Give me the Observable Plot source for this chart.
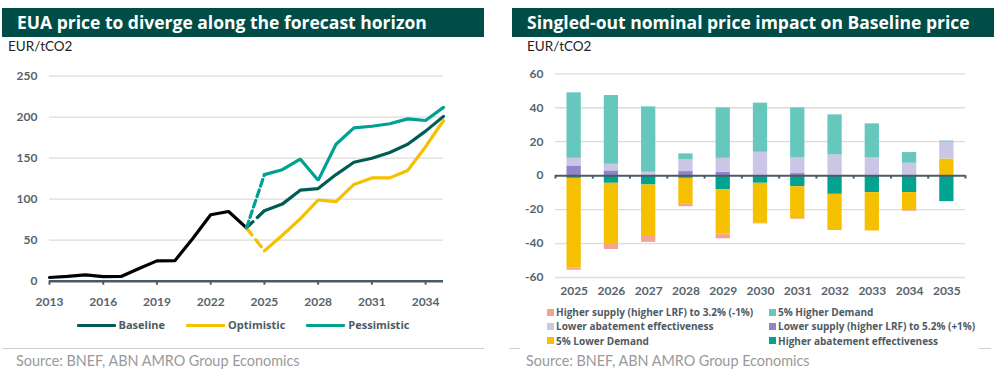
<!DOCTYPE html>
<html><head><meta charset="utf-8">
<script src="https://cdn.jsdelivr.net/npm/d3@7"></script>
<script src="https://cdn.jsdelivr.net/npm/@observablehq/plot@0.6"></script>
<style>
body{margin:0;background:#fff;font-family:Lato,"Noto Sans",sans-serif;}
#root{position:relative;width:1008px;height:391px;overflow:hidden;background:#fff;}
.title{position:absolute;top:8px;height:29px;background:#004d47;color:#fff;font-family:"Open Sans",sans-serif;font-weight:700;font-size:17.5px;line-height:29px;box-sizing:border-box;padding-left:15px;white-space:nowrap;}
.unit{position:absolute;top:38px;font-size:13.5px;color:#222;line-height:16px;}
.chart{position:absolute;}
.source{position:absolute;top:352px;font-size:14.4px;color:#9a9a9a;line-height:18px;white-space:nowrap;}
.hr{position:absolute;top:348px;height:1px;background:#cfcfcf;}
.legL{position:absolute;top:318px;left:0;width:486px;display:flex;justify-content:center;gap:21px;font-family:"Open Sans",sans-serif;font-size:11px;font-weight:700;color:#4d5a63;line-height:14px;}
.legL span{display:flex;align-items:center;}
.legL i{display:inline-block;width:39px;height:3px;margin-right:3px;border-radius:1px;}
.legR{position:absolute;top:305px;left:547px;display:grid;grid-template-columns:222px 230px;row-gap:0px;font-family:"Open Sans",sans-serif;font-size:10px;font-weight:700;color:#4d5a63;line-height:14.3px;}
.legR span{display:flex;align-items:center;white-space:nowrap;}
.legR i{display:inline-block;width:7px;height:7px;margin-right:2px;}
</style>
</head><body>
<div id="root">
  <div class="title" style="left:2px;width:482px;">EUA price to diverge along the forecast horizon</div>
  <div class="unit" style="left:8px;">EUR/tCO2</div>
  <div class="chart" id="left" style="left:0;top:60px;"></div>
  <div class="legL" id="legL"></div>
  <div class="hr" style="left:2px;width:482px;"></div>
  <div class="source" style="left:16px;">Source: BNEF, ABN AMRO Group Economics</div>

  <div class="title" style="left:512px;width:482px;">Singled-out nominal price impact on Baseline price</div>
  <div class="unit" style="left:527px;">EUR/tCO2</div>
  <div class="chart" id="right" style="left:505px;top:60px;"></div>
  <div class="legR" id="legR"></div>
  <div class="hr" style="left:509px;width:11px;"></div>
  <div class="hr" style="left:979px;width:12px;"></div>
  <div class="source" style="left:526px;">Source: BNEF, ABN AMRO Group Economics</div>
</div>
<script>
// ---------- Left chart data ----------
const histYears = [2013,2014,2015,2016,2017,2018,2019,2020,2021,2022,2023,2024];
const histPrice = [4.5,6,7.7,5.5,5.8,15.5,24.8,25,52,81,85,65];
const fcYears = [2025,2026,2027,2028,2029,2030,2031,2032,2033,2034,2035];
const baseline    = [86,94,111,113,130,145,150,157,167,183,201];
const optimistic  = [37,56,76,99,97,118,126,126,135,164,196];
const pessimistic = [130,136,149,123,167,187,189,192,198,196,212];
const scenarioNames = ["Baseline","Optimistic","Pessimistic"];
const scenarioColors = ["#005c54","#f5c000","#00a092"];
const leftYTicks = [0,50,100,150,200,250];
const leftXTicks = [2013,2016,2019,2022,2025,2028,2031,2034];

// ---------- Right chart data ----------
const barYears = [2025,2026,2027,2028,2029,2030,2031,2032,2033,2034,2035];
const higherSupply    = [-1.2,-3,-3.5,-1.8,-2.8,-0.3,-0.4,-0.6,0,-0.4,0];
const higherDemand    = [38.6,40.5,38.5,3.4,29.7,28.9,29.5,23.6,20.1,6.3,0.6];
const lowerAbatement  = [4.5,3.9,1.7,7,8.2,13.5,9.2,12,10.4,7.3,10];
const lowerSupply     = [5.7,2.8,0.3,2.4,2,0.3,1.2,0.2,0,0,0];
const lowerDemand     = [-52.9,-36,-30.3,-14.9,-26.1,-23.6,-18.9,-20.7,-22.6,-10.6,9.8];
const higherAbatement = [-1.6,-4.5,-5.5,-1.6,-8.3,-4.5,-6.5,-11,-10,-10,-15.3];
const seriesNames = [
  "Higher supply (higher LRF) to 3.2% (-1%)",
  "5% Higher Demand",
  "Lower abatement effectiveness",
  "Lower supply (higher LRF) to 5.2% (+1%)",
  "5% Lower Demand",
  "Higher abatement effectiveness"
];
const seriesColors = ["#f4a393","#66c7bd","#cbc6e6","#8f86c9","#f5c000","#00a390"];
const rightYTicks = [-60,-40,-20,0,20,40,60];

const axisColor = "#4a5a66";
const labelColor = "#56646e";
const gridColor = "#dcdcdc";

// ---------- Left chart ----------
const hist = histYears.map((y,i)=>({year:y, v:histPrice[i]}));
const lastYear = histYears[histYears.length-1], lastVal = histPrice[histPrice.length-1];
const scenVals = [baseline, optimistic, pessimistic];
const solid = [], dashed = [];
scenarioNames.forEach((s,k)=>{
  dashed.push({s, year:lastYear, v:lastVal}, {s, year:fcYears[0], v:scenVals[k][0]});
  fcYears.forEach((y,i)=>solid.push({s, year:y, v:scenVals[k][i]}));
});
const colorScale = {domain: scenarioNames, range: scenarioColors};

const left = Plot.plot({
  width: 470, height: 255,
  marginLeft: 49, marginRight: 27, marginTop: 15.7, marginBottom: 34.3,
  style: {fontFamily: "Lato, 'Noto Sans', sans-serif", fontSize: "12px", fontWeight: "bold", color: labelColor, background: "transparent", overflow: "visible"},
  x: {domain: [2013, 2035]},
  y: {domain: [0, 250]},
  color: colorScale,
  marks: [
    Plot.gridY(leftYTicks.filter(d=>d>0), {stroke: gridColor, strokeOpacity: 1, strokeWidth: 1.3}),
    Plot.axisY(leftYTicks, {tickSize: 0, tickPadding: 12, label: null, tickFormat: d=>String(d)}),
    Plot.line(hist, {x:"year", y:"v", stroke:"#000", strokeWidth: 3.2, strokeLinejoin: "miter"}),
    Plot.line(dashed.filter(d=>d.s!=="Pessimistic"), {x:"year", y:"v", z:"s", stroke:"s", strokeWidth: 3.2, strokeDasharray: "9,6"}),
    Plot.line(dashed.filter(d=>d.s==="Pessimistic"), {x:"year", y:"v", z:"s", stroke:"s", strokeWidth: 3.2, strokeDasharray: "7,4"}),
    Plot.line(solid, {x:"year", y:"v", z:"s", stroke:"s", strokeWidth: 3.2, strokeLinejoin: "miter"}),
    Plot.ruleY([0], {stroke: axisColor, strokeWidth: 2.5}),
    Plot.axisX(leftXTicks, {tickSize: 4, tickPadding: 12, stroke: axisColor, strokeWidth: 2, label: null, tickFormat: d=>String(d)})
  ]
});
document.getElementById("left").appendChild(left);

// ---------- Right chart ----------
// stacking order from zero outward (reverse of legend order)
const seriesArrays = [higherSupply, higherDemand, lowerAbatement, lowerSupply, lowerDemand, higherAbatement];
const stackOrder = [5,4,3,2,1,0];
const bars = [];
barYears.forEach((y,i)=>{
  stackOrder.forEach(k=>bars.push({year:y, s:seriesNames[k], v:seriesArrays[k][i]}));
});
const boundaries = [barYears[0]-0.5, ...barYears.map(y=>y+0.5)];

const right = Plot.plot({
  width: 475, height: 250,
  marginLeft: 50, marginRight: 15, marginTop: 13.3, marginBottom: 33,
  style: {fontFamily: "Lato, 'Noto Sans', sans-serif", fontSize: "12px", fontWeight: "bold", color: labelColor, background: "transparent", overflow: "visible"},
  x: {domain: [barYears[0]-0.5, barYears[barYears.length-1]+0.5]},
  y: {domain: [-60, 60]},
  color: {domain: seriesNames, range: seriesColors},
  marks: [
    Plot.gridY(rightYTicks.filter(d=>d!==0), {stroke: gridColor, strokeOpacity: 1, strokeWidth: 1.3}),
    Plot.axisY(rightYTicks, {tickSize: 0, tickPadding: 12, label: null, tickFormat: d=>String(d)}),
    Plot.rectY(bars, Plot.stackY({x: "year", x1: d=>d.year-0.5, x2: d=>d.year+0.5, y: "v", fill: "s", order: null, insetLeft: 11.5, insetRight: 11.5})),
    Plot.ruleY([0], {stroke: axisColor, strokeWidth: 2}),
    Plot.ruleX(boundaries, {y1: 0, y2: -2, stroke: axisColor, strokeWidth: 2}),
    Plot.axisX(barYears, {anchor: "bottom", tickSize: 0, tickPadding: 9, label: null, tickFormat: d=>String(d)})
  ]
});
document.getElementById("right").appendChild(right);

// ---------- Legends ----------
const legL = document.getElementById("legL");
scenarioNames.forEach((s,k)=>{
  const sp = document.createElement("span");
  sp.innerHTML = `<i style="background:${scenarioColors[k]}"></i>${s}`;
  legL.appendChild(sp);
});
const legR = document.getElementById("legR");
seriesNames.forEach((s,k)=>{
  const sp = document.createElement("span");
  sp.innerHTML = `<i style="background:${seriesColors[k]}"></i>${s}`;
  legR.appendChild(sp);
});
</script>
</body></html>
